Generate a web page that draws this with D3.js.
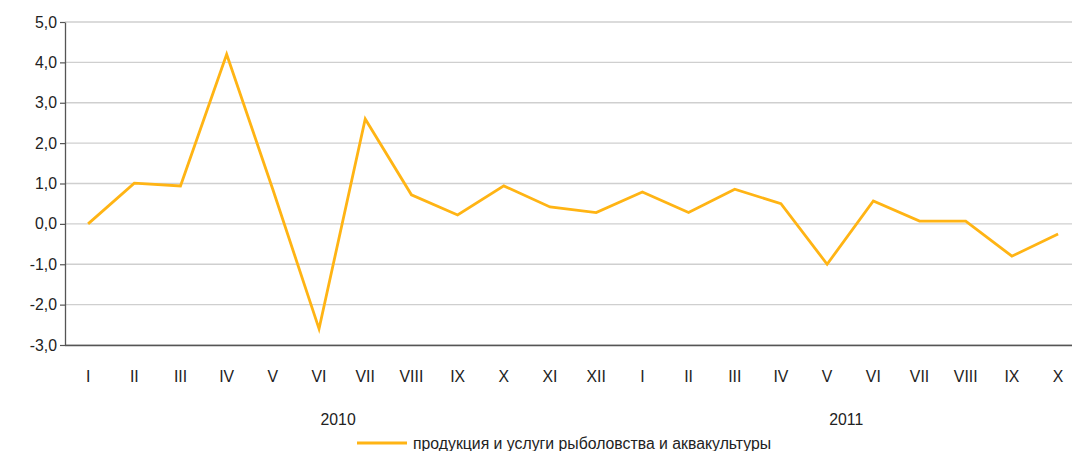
<!DOCTYPE html>
<html>
<head>
<meta charset="utf-8">
<script src="https://cdn.jsdelivr.net/npm/d3@7"></script>
<style>
  html, body { margin: 0; padding: 0; background: #fff; }
  svg { display: block; font-family: "Liberation Sans", Arial, sans-serif; }
</style>
</head>
<body>
<svg id="chart" width="1072" height="451"></svg>
<script>
// Month labels (Roman numerals) across two years
const months = ["I","II","III","IV","V","VI","VII","VIII","IX","X","XI","XII",
                "I","II","III","IV","V","VI","VII","VIII","IX","X"];
const years = ["2010", "2011"];
const yearMonthCounts = [12, 10];
// Monthly change, %
const values = [0.0, 1.01, 0.94, 4.2, 0.85, -2.6, 2.6, 0.72, 0.22, 0.94, 0.42, 0.28,
                0.79, 0.28, 0.86, 0.5, -1.0, 0.57, 0.07, 0.07, -0.8, -0.25];
const yTicks = [-3, -2, -1, 0, 1, 2, 3, 4, 5];
const seriesName = "продукция и услуги рыболовства и аквакультуры";

(function () {
  const W = 1072;
  const plotLeft = 65, plotTop = 22, plotBottom = 345;
  const step = 46.19;
  const fontSize = "15.8px";
  const textColor = "#222";
  const svg = d3.select("#chart");

  const x = d3.scaleBand()
    .domain(d3.range(months.length))
    .range([plotLeft, plotLeft + step * months.length])
    .padding(0);
  const xc = i => x(i) + x.bandwidth() / 2;

  const y = d3.scaleLinear().domain([-3, 5]).range([plotBottom, plotTop]);

  const fmt = v => d3.format(".1f")(v).replace(".", ",").replace("−", "-");

  // horizontal grid
  svg.append("g")
    .selectAll("line")
    .data(yTicks)
    .join("line")
    .attr("x1", plotLeft).attr("x2", W)
    .attr("y1", d => y(d)).attr("y2", d => y(d))
    .attr("stroke", "#cfcfcf")
    .attr("stroke-width", 1.3);

  // y axis
  const yAxis = svg.append("g")
    .attr("transform", `translate(${plotLeft},0)`)
    .call(d3.axisLeft(y).tickValues(yTicks).tickFormat(fmt).tickSize(5).tickSizeOuter(0));
  yAxis.select(".domain").attr("stroke", "#555").attr("stroke-width", 1.3);
  yAxis.selectAll(".tick line").attr("stroke", "#555").attr("stroke-width", 1.2);
  yAxis.selectAll(".tick text")
    .attr("x", -8)
    .attr("fill", textColor)
    .style("font-size", fontSize)
    .style("font-family", "Liberation Sans, Arial, sans-serif");

  // x axis baseline and month labels
  const xAxis = svg.append("g")
    .attr("transform", `translate(0,${plotBottom})`)
    .call(d3.axisBottom(x).tickFormat(i => months[i]).tickSize(0).tickSizeOuter(0));
  xAxis.select(".domain").attr("stroke", "#555").attr("stroke-width", 1.3)
    .attr("d", `M${plotLeft},0.5H${W}`);
  xAxis.selectAll(".tick text")
    .attr("dy", 0)
    .attr("y", 37)
    .attr("fill", textColor)
    .style("font-size", fontSize)
    .style("font-family", "Liberation Sans, Arial, sans-serif");

  // year labels centred under their months
  let start = 0;
  years.forEach((yr, k) => {
    const n = yearMonthCounts[k];
    const cx = (xc(start) + xc(start + n - 1)) / 2;
    svg.append("text")
      .attr("x", cx - 4).attr("y", 425)
      .attr("text-anchor", "middle")
      .attr("fill", textColor)
      .style("font-size", fontSize)
      .text(yr);
    start += n;
  });

  // series line
  const line = d3.line()
    .x((d, i) => xc(i))
    .y(d => y(d));
  svg.append("path")
    .datum(values)
    .attr("d", line)
    .attr("fill", "none")
    .attr("stroke", "#ffb414")
    .attr("stroke-width", 2.8)
    .attr("stroke-linejoin", "miter");

  // legend
  const lg = svg.append("g").attr("transform", "translate(357,443)");
  lg.append("line").attr("x1", 0).attr("x2", 50).attr("y1", 0).attr("y2", 0)
    .attr("stroke", "#ffb414").attr("stroke-width", 2.8);
  lg.append("text").attr("x", 56).attr("y", 6)
    .attr("fill", textColor)
    .style("font-size", fontSize)
    .text(seriesName);
})();
</script>
</body>
</html>
